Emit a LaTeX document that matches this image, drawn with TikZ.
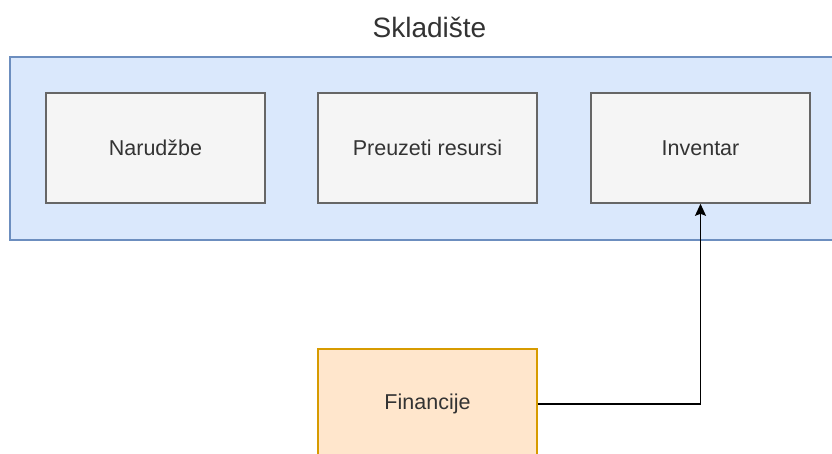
\documentclass[tikz,border=0pt]{standalone}
\usepackage{fontspec}
\setmainfont{Liberation Sans}
\usetikzlibrary{arrows.meta}
\definecolor{contfill}{HTML}{DAE8FC}
\definecolor{contline}{HTML}{6C8EBF}
\definecolor{boxfill}{HTML}{F5F5F5}
\definecolor{boxline}{HTML}{666666}
\definecolor{finfill}{HTML}{FFE6CC}
\definecolor{finline}{HTML}{D79B00}
\definecolor{txt}{HTML}{333333}
\tikzset{
  grayrect/.style={draw=boxline, fill=boxfill, line width=1.6pt, minimum width=219pt, minimum height=110pt, inner sep=0pt, text=txt, font=\fontsize{21.5}{26}\selectfont},
  finrect/.style={draw=finline, fill=finfill, line width=1.6pt, minimum width=219pt, minimum height=110pt, inner sep=0pt, text=txt, font=\fontsize{21.5}{26}\selectfont},
  container/.style={draw=contline, fill=contfill, line width=1.6pt, minimum width=835pt, minimum height=183pt, inner sep=0pt},
  conn/.style={draw=black, line width=1.6pt, -{Stealth[length=12pt,width=11pt,inset=2pt]}}
}
\begin{document}
\begin{tikzpicture}[x=1pt,y=-1pt]
\useasboundingbox (0,0) rectangle (832,453);
\clip (0,0) rectangle (832,453);
\fill[white] (0,0) rectangle (832,453);
\node[container] (cont) at (427.5,148.5) {};
\node[anchor=base, text=txt, font=\fontsize{28}{32}\selectfont] (title) at (429.5,37) {Skladište};
\node[grayrect] (nar) at (155.5,148) {Narudžbe};
\node[grayrect] (pre) at (427.5,148) {Preuzeti resursi};
\node[grayrect] (inv) at (700.5,148) {Inventar};
\node[finrect] (fin) at (427.5,404) {Financije};
\coordinate (bend) at (inv.south |- fin.east);
\draw[conn] (fin.east) -- (bend) -- (inv.south);
\end{tikzpicture}
\end{document}
